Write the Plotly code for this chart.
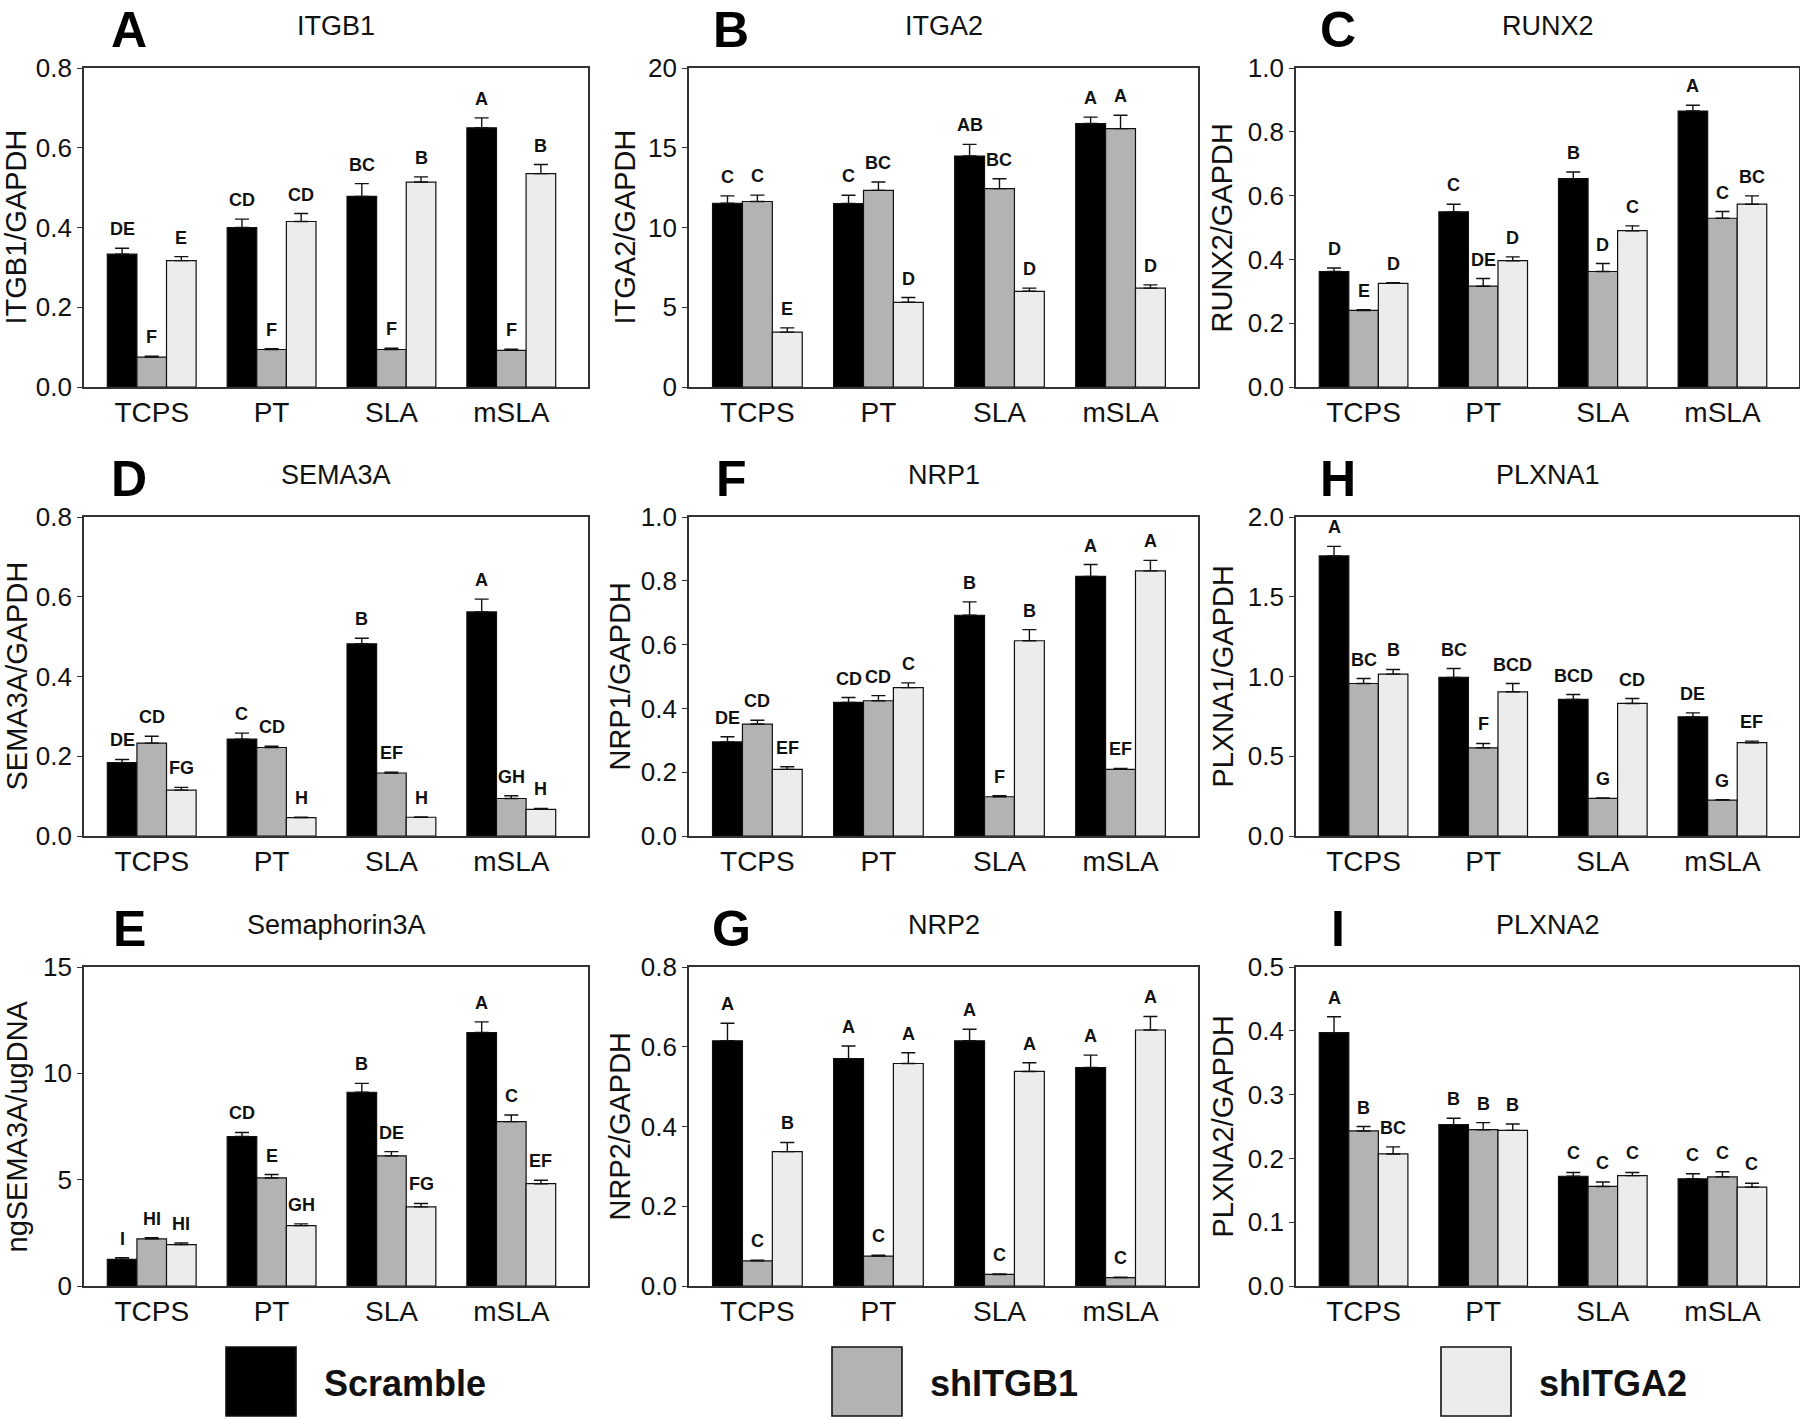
import plotly.graph_objects as go

# ---------------- data ----------------
categories = ["TCPS", "PT", "SLA", "mSLA"]
series_names = ["Scramble", "shITGB1", "shITGA2"]
series_colors = ["#000000", "#b3b3b3", "#ececec"]

# A  ITGB1
ITGB1_scramble = [0.333, 0.400, 0.478, 0.650]
ITGB1_scramble_err = [0.015, 0.021, 0.032, 0.025]
ITGB1_shITGB1 = [0.075, 0.094, 0.094, 0.092]
ITGB1_shITGB1_err = [0.002, 0.002, 0.003, 0.003]
ITGB1_shITGA2 = [0.317, 0.415, 0.514, 0.535]
ITGB1_shITGA2_err = [0.010, 0.020, 0.013, 0.023]
ITGB1_letters = [["DE", "CD", "BC", "A"], ["F", "F", "F", "F"], ["E", "CD", "B", "B"]]

# B  ITGA2
ITGA2_scramble = [11.52, 11.50, 14.48, 16.52]
ITGA2_scramble_err = [0.46, 0.52, 0.73, 0.40]
ITGA2_shITGB1 = [11.63, 12.33, 12.44, 16.20]
ITGA2_shITGB1_err = [0.40, 0.52, 0.62, 0.84]
ITGA2_shITGA2 = [3.44, 5.31, 6.00, 6.20]
ITGA2_shITGA2_err = [0.27, 0.30, 0.20, 0.20]
ITGA2_letters = [["C", "C", "AB", "A"], ["C", "BC", "BC", "A"], ["E", "D", "D", "D"]]

# C  RUNX2
RUNX2_scramble = [0.362, 0.549, 0.653, 0.865]
RUNX2_scramble_err = [0.011, 0.024, 0.021, 0.018]
RUNX2_shITGB1 = [0.240, 0.316, 0.362, 0.529]
RUNX2_shITGB1_err = [0.002, 0.024, 0.025, 0.021]
RUNX2_shITGA2 = [0.325, 0.396, 0.490, 0.573]
RUNX2_shITGA2_err = [0.002, 0.012, 0.015, 0.026]
RUNX2_letters = [["D", "C", "B", "A"], ["E", "DE", "D", "C"], ["D", "D", "C", "BC"]]

# D  SEMA3A
SEMA3A_scramble = [0.184, 0.243, 0.482, 0.562]
SEMA3A_scramble_err = [0.008, 0.015, 0.014, 0.032]
SEMA3A_shITGB1 = [0.233, 0.222, 0.158, 0.094]
SEMA3A_shITGB1_err = [0.017, 0.003, 0.002, 0.007]
SEMA3A_shITGA2 = [0.115, 0.046, 0.047, 0.067]
SEMA3A_shITGA2_err = [0.007, 0.001, 0.001, 0.002]
SEMA3A_letters = [["DE", "C", "B", "A"], ["CD", "CD", "EF", "GH"], ["FG", "H", "H", "H"]]

# F  NRP1
NRP1_scramble = [0.295, 0.419, 0.692, 0.814]
NRP1_scramble_err = [0.016, 0.015, 0.042, 0.037]
NRP1_shITGB1 = [0.351, 0.424, 0.123, 0.209]
NRP1_shITGB1_err = [0.012, 0.016, 0.003, 0.003]
NRP1_shITGA2 = [0.209, 0.465, 0.612, 0.831]
NRP1_shITGA2_err = [0.008, 0.015, 0.035, 0.033]
NRP1_letters = [["DE", "CD", "B", "A"], ["CD", "CD", "F", "EF"], ["EF", "C", "B", "A"]]

# H  PLXNA1
PLXNA1_scramble = [1.756, 0.994, 0.856, 0.747]
PLXNA1_scramble_err = [0.060, 0.056, 0.031, 0.025]
PLXNA1_shITGB1 = [0.956, 0.553, 0.236, 0.225]
PLXNA1_shITGB1_err = [0.031, 0.027, 0.003, 0.003]
PLXNA1_shITGA2 = [1.015, 0.904, 0.831, 0.585]
PLXNA1_shITGA2_err = [0.029, 0.052, 0.031, 0.010]
PLXNA1_letters = [["A", "BC", "BCD", "DE"], ["BC", "F", "G", "G"], ["B", "BCD", "CD", "EF"]]

# E  Semaphorin3A (ELISA)
SEMA3A_ng_scramble = [1.25, 7.03, 9.11, 11.92]
SEMA3A_ng_scramble_err = [0.08, 0.19, 0.42, 0.50]
SEMA3A_ng_shITGB1 = [2.22, 5.08, 6.12, 7.73]
SEMA3A_ng_shITGB1_err = [0.05, 0.16, 0.20, 0.31]
SEMA3A_ng_shITGA2 = [1.95, 2.84, 3.72, 4.81]
SEMA3A_ng_shITGA2_err = [0.08, 0.08, 0.16, 0.16]
SEMA3A_ng_letters = [["I", "CD", "B", "A"], ["HI", "E", "DE", "C"], ["HI", "GH", "FG", "EF"]]

# G  NRP2
NRP2_scramble = [0.615, 0.570, 0.615, 0.548]
NRP2_scramble_err = [0.044, 0.032, 0.029, 0.031]
NRP2_shITGB1 = [0.063, 0.075, 0.029, 0.021]
NRP2_shITGB1_err = [0.002, 0.002, 0.001, 0.001]
NRP2_shITGA2 = [0.337, 0.558, 0.538, 0.642]
NRP2_shITGA2_err = [0.023, 0.027, 0.022, 0.034]
NRP2_letters = [["A", "A", "A", "A"], ["C", "C", "C", "C"], ["B", "A", "A", "A"]]

# I  PLXNA2
PLXNA2_scramble = [0.397, 0.253, 0.172, 0.168]
PLXNA2_scramble_err = [0.025, 0.010, 0.006, 0.008]
PLXNA2_shITGB1 = [0.243, 0.245, 0.156, 0.171]
PLXNA2_shITGB1_err = [0.007, 0.011, 0.007, 0.008]
PLXNA2_shITGA2 = [0.207, 0.244, 0.173, 0.155]
PLXNA2_shITGA2_err = [0.011, 0.010, 0.005, 0.006]
PLXNA2_letters = [["A", "B", "C", "C"], ["B", "B", "C", "C"], ["BC", "B", "C", "C"]]

panels = [
    # letter, title, y-title, values, errors, letters, ymax, dtick, tickformat
    ("A", "ITGB1", "ITGB1/GAPDH",
     [ITGB1_scramble, ITGB1_shITGB1, ITGB1_shITGA2],
     [ITGB1_scramble_err, ITGB1_shITGB1_err, ITGB1_shITGA2_err], ITGB1_letters, 0.8, 0.2, ".1f"),
    ("B", "ITGA2", "ITGA2/GAPDH",
     [ITGA2_scramble, ITGA2_shITGB1, ITGA2_shITGA2],
     [ITGA2_scramble_err, ITGA2_shITGB1_err, ITGA2_shITGA2_err], ITGA2_letters, 20, 5, "d"),
    ("C", "RUNX2", "RUNX2/GAPDH",
     [RUNX2_scramble, RUNX2_shITGB1, RUNX2_shITGA2],
     [RUNX2_scramble_err, RUNX2_shITGB1_err, RUNX2_shITGA2_err], RUNX2_letters, 1.0, 0.2, ".1f"),
    ("D", "SEMA3A", "SEMA3A/GAPDH",
     [SEMA3A_scramble, SEMA3A_shITGB1, SEMA3A_shITGA2],
     [SEMA3A_scramble_err, SEMA3A_shITGB1_err, SEMA3A_shITGA2_err], SEMA3A_letters, 0.8, 0.2, ".1f"),
    ("F", "NRP1", "NRP1/GAPDH",
     [NRP1_scramble, NRP1_shITGB1, NRP1_shITGA2],
     [NRP1_scramble_err, NRP1_shITGB1_err, NRP1_shITGA2_err], NRP1_letters, 1.0, 0.2, ".1f"),
    ("H", "PLXNA1", "PLXNA1/GAPDH",
     [PLXNA1_scramble, PLXNA1_shITGB1, PLXNA1_shITGA2],
     [PLXNA1_scramble_err, PLXNA1_shITGB1_err, PLXNA1_shITGA2_err], PLXNA1_letters, 2.0, 0.5, ".1f"),
    ("E", "Semaphorin3A", "ngSEMA3A/ugDNA",
     [SEMA3A_ng_scramble, SEMA3A_ng_shITGB1, SEMA3A_ng_shITGA2],
     [SEMA3A_ng_scramble_err, SEMA3A_ng_shITGB1_err, SEMA3A_ng_shITGA2_err], SEMA3A_ng_letters, 15, 5, "d"),
    ("G", "NRP2", "NRP2/GAPDH",
     [NRP2_scramble, NRP2_shITGB1, NRP2_shITGA2],
     [NRP2_scramble_err, NRP2_shITGB1_err, NRP2_shITGA2_err], NRP2_letters, 0.8, 0.2, ".1f"),
    ("I", "PLXNA2", "PLXNA2/GAPDH",
     [PLXNA2_scramble, PLXNA2_shITGB1, PLXNA2_shITGA2],
     [PLXNA2_scramble_err, PLXNA2_shITGB1_err, PLXNA2_shITGA2_err], PLXNA2_letters, 0.5, 0.1, ".1f"),
]

# ---------------- layout geometry (pixels) ----------------
W, H = 1800, 1420
col_px = [(84, 588), (689, 1198), (1296, 1799)]
row_px = [(68, 387), (517, 836), (967, 1286)]
ytitle_x = [[16, 625, 1222], [16, 619, 1222], [16, 619, 1222]]
letter_x = [129, 731, 1338]
BAR_W = 0.247

font_family = "Liberation Sans, Arial, sans-serif"

fig = go.Figure()
annotations = []
shapes = []

for p, (plet, title, ytitle, vals, errs, lets, ymax, dtick, tfmt) in enumerate(panels):
    r, c = divmod(p, 3)
    idx = p + 1
    xa = "x" if idx == 1 else f"x{idx}"
    ya = "y" if idx == 1 else f"y{idx}"
    x0, x1 = col_px[c]
    y0, y1 = row_px[r]

    for k in range(3):
        xs = [i + (k - 1) * BAR_W for i in range(len(categories))]
        fig.add_trace(go.Bar(
            x=xs, y=vals[k], width=BAR_W,
            marker=dict(color=series_colors[k], line=dict(color="#111111", width=1.2)),
            error_y=dict(type="data", array=errs[k], arrayminus=[0] * len(errs[k]),
                         symmetric=False, color="#111111", thickness=1.4, width=7),
            name=series_names[k], showlegend=False,
            xaxis=xa, yaxis=ya,
        ))
        # significance letters, placed from the data through the axis scales
        for xi, v, e, t in zip(xs, vals[k], errs[k], lets[k]):
            annotations.append(dict(
                text=f"<b>{t}</b>", x=xi, y=v + e, xref=xa, yref=ya,
                xanchor="center", yanchor="bottom", yshift=7, showarrow=False,
                font=dict(size=18, color="#111111", family=font_family)))

    xkey = "xaxis" if idx == 1 else f"xaxis{idx}"
    ykey = "yaxis" if idx == 1 else f"yaxis{idx}"
    fig.layout[xkey] = dict(
        domain=[x0 / W, x1 / W], anchor=ya, range=[-0.565, 3.64], automargin=False,
        tickvals=list(range(len(categories))), ticktext=categories,
        showline=True, mirror=True, linecolor="#333333", linewidth=1.6,
        ticks="", showgrid=False, zeroline=False, ticklabelstandoff=0,
        tickfont=dict(size=28, color="#111111", family=font_family),
    )
    fig.layout[ykey] = dict(
        domain=[1 - y1 / H, 1 - y0 / H], anchor=xa, range=[0, ymax], dtick=dtick,
        automargin=False,
        tickformat=tfmt, showline=True, mirror=True, linecolor="#333333", linewidth=1.6,
        ticks="outside", ticklen=5, tickcolor="#333333", showgrid=False, zeroline=False,
        tickfont=dict(size=26, color="#111111", family=font_family),
    )

    # panel letter (top of its text box sits 68 px above the plot frame)
    annotations.append(dict(
        text=f"<b>{plet}</b>", x=letter_x[c] / W, y=1 - (y0 - 68) / H,
        xref="paper", yref="paper", xanchor="center", yanchor="top", showarrow=False,
        font=dict(size=50, color="#000000", family=font_family)))
    # panel title
    annotations.append(dict(
        text=title, x=(x0 + x1) / 2 / W, y=1 - (y0 - 42) / H,
        xref="paper", yref="paper", xanchor="center", yanchor="middle", showarrow=False,
        font=dict(size=27, color="#111111", family=font_family)))
    # y-axis title
    annotations.append(dict(
        text=ytitle, x=ytitle_x[r][c] / W, y=1 - (y0 + y1) / 2 / H, textangle=-90,
        xref="paper", yref="paper", xanchor="center", yanchor="middle", showarrow=False,
        font=dict(size=29, color="#111111", family=font_family)))

# legend
legend_box_x = [226, 832, 1441]
for k in range(3):
    bx = legend_box_x[k]
    shapes.append(dict(type="rect", xref="paper", yref="paper",
                       x0=bx / W, x1=(bx + 70) / W, y0=1 - 1416 / H, y1=1 - 1347 / H,
                       fillcolor=series_colors[k], line=dict(color="#111111", width=1.6)))
    annotations.append(dict(
        text=f"<b>{series_names[k]}</b>", x=(bx + 96) / W, y=1 - 1383 / H,
        xref="paper", yref="paper", xanchor="left", yanchor="middle", showarrow=False,
        font=dict(size=36, color="#111111", family=font_family)))

fig.update_layout(
    width=W, height=H, autosize=False,
    margin=dict(l=0, r=0, t=0, b=0, pad=0, autoexpand=False),
    paper_bgcolor="white", plot_bgcolor="white",
    barmode="overlay", showlegend=False,
    annotations=annotations, shapes=shapes,
    font=dict(family=font_family, color="#111111"),
)

fig.write_html(
    "out.html",
    config={"displayModeBar": False},
    post_script="document.body.style.margin='0';document.body.style.overflow='hidden';",
)
